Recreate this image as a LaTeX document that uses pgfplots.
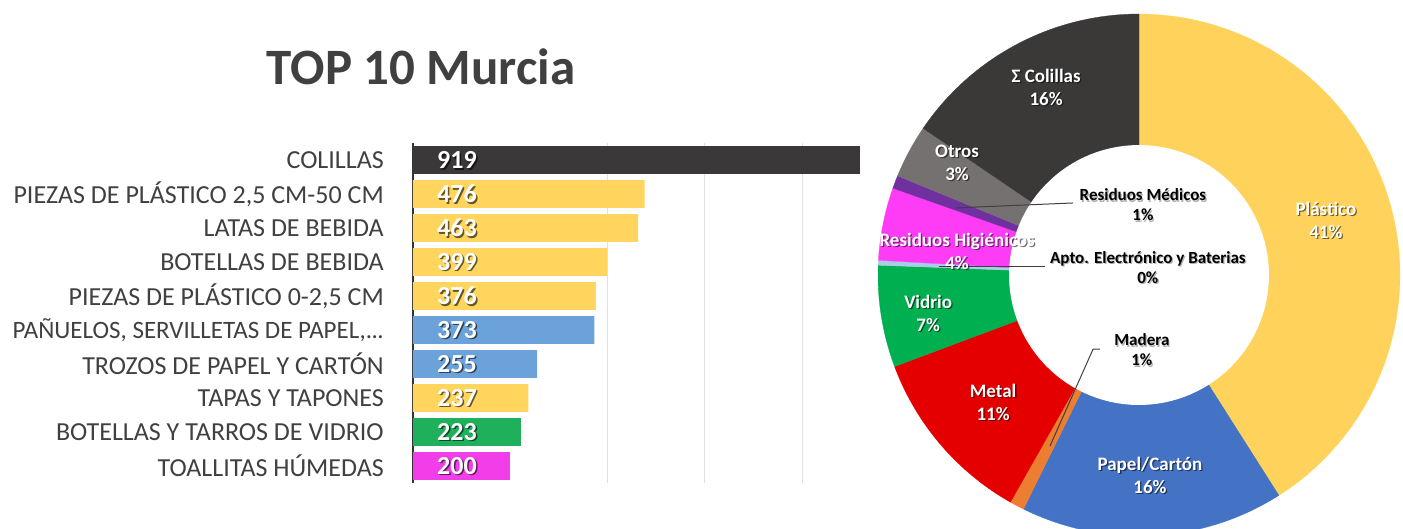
\documentclass[border=0pt]{standalone}
\usepackage{pgfplots}
\pgfplotsset{compat=1.18}
\usepackage{pgfplotstable}
\usepackage{fontspec}
\setmainfont{Carlito}

\definecolor{cDark}{HTML}{3A3838}
\definecolor{cYel}{HTML}{FFD55E}
\definecolor{cBlue}{HTML}{6CA2DA}
\definecolor{cGreen}{HTML}{1FB05C}
\definecolor{cMag}{HTML}{F23EE8}
\definecolor{cText}{HTML}{404040}
\definecolor{dPlas}{HTML}{FFD35B}
\definecolor{dPapel}{HTML}{4472C4}
\definecolor{dMadera}{HTML}{ED7D31}
\definecolor{dMetal}{HTML}{E50000}
\definecolor{dVidrio}{HTML}{00B050}
\definecolor{dApto}{HTML}{A9CDE8}
\definecolor{dHig}{HTML}{FF3CF5}
\definecolor{dMed}{HTML}{7030A0}
\definecolor{dOtros}{HTML}{767171}
\definecolor{dCol}{HTML}{3B3838}

\pgfplotstableread{
idx value
0 919
1 476
2 463
3 399
4 376
5 373
6 255
7 237
8 223
9 200
}\bardata

% donut slices: percent, colour (clockwise from 12 o'clock)
\xdef\cum{90}
\newcommand\slice[2]{%
  \pgfmathsetmacro\sA{\cum}%
  \pgfmathsetmacro\sB{\cum-3.6*#1}%
  \xdef\cum{\sB}%
  \edef\doslice{\noexpand\addplot[fill=#2, draw=#2, line width=0.3pt, domain=\sB:\sA, samples=60] ({cos(x)},{sin(x)}) -- (axis cs:0,0) -- cycle;}%
  \doslice
}
\newcommand\wlabel[2]{%
  \node[align=center, text=black, opacity=.55, font=\fontsize{19}{23}\selectfont\bfseries] at ([xshift=1.3pt,yshift=-1.3pt]axis cs:#1) {#2};
  \node[align=center, text=white, font=\fontsize{19}{23}\selectfont\bfseries] at (axis cs:#1) {#2};
}
\newcommand\blabel[2]{%
  \node[align=center, text=gray, opacity=.6, font=\fontsize{17}{20}\selectfont\bfseries] at ([xshift=1.2pt,yshift=-1.2pt]axis cs:#1) {#2};
  \node[align=center, text=black, font=\fontsize{17}{20}\selectfont\bfseries] at (axis cs:#1) {#2};
}
\newcommand\pan{\fontsize{25}{30}\selectfont PAÑUELOS, SERVILLETAS DE PAPEL,.\kern-0.5pt.\kern-0.5pt.}
\pgfplotsset{hbar/.style={xbar, bar shift=0pt, bar width=0.82, draw=none, fill=#1}}

\begin{document}
\begin{tikzpicture}[x=1pt,y=1pt]
\path[use as bounding box] (0,0) rectangle (1403,529);

\node[anchor=base, text=cText, font=\fontsize{51}{60}\selectfont\bfseries] at (421,444) {TOP 10 Murcia};

\begin{axis}[
  at={(413pt,46pt)}, anchor=south west,
  scale only axis, width=447pt, height=340pt,
  xmin=0, xmax=919, ymin=-0.5, ymax=9.5, y dir=reverse,
  clip=false,
  axis lines*=left,
  x axis line style={draw=none},
  y axis line style={line width=2.5pt, color=black!80, -},
  xtick={400,600,800}, xticklabels={}, xtick style={draw=none},
  xmajorgrids, grid style={black!12, line width=0.8pt},
  ytick={0,1,2,3,4,5,6,7,8,9}, ytick style={draw=none},
  yticklabels={COLILLAS,{PIEZAS DE PLÁSTICO 2,5 CM-50 CM},LATAS DE BEBIDA,BOTELLAS DE BEBIDA,{PIEZAS DE PLÁSTICO 0-2,5 CM},{\pan},TROZOS DE PAPEL Y CARTÓN,TAPAS Y TAPONES,BOTELLAS Y TARROS DE VIDRIO,TOALLITAS HÚMEDAS},
  yticklabel style={font=\fontsize{26}{30}\selectfont, text=cText, inner sep=0pt, xshift=-29pt},
  /pgf/number format/assume math mode=true,
]
% Colillas
\addplot[hbar=cDark, skip coords between index={1}{10}] table[x=value, y=idx] {\bardata};
% plastic / cans / bottles / caps
\addplot[hbar=cYel, skip coords between index={0}{1}, skip coords between index={5}{7}, skip coords between index={8}{10}] table[x=value, y=idx] {\bardata};
% paper
\addplot[hbar=cBlue, skip coords between index={0}{5}, skip coords between index={7}{10}] table[x=value, y=idx] {\bardata};
% glass
\addplot[hbar=cGreen, skip coords between index={0}{8}, skip coords between index={9}{10}] table[x=value, y=idx] {\bardata};
% wipes
\addplot[hbar=cMag, skip coords between index={0}{9}] table[x=value, y=idx] {\bardata};
% value labels (shadow, then white)
\addplot[draw=none, mark=none, nodes near coords, point meta=\thisrow{value},
  every node near coord/.append style={anchor=west, inner sep=0pt, xshift=25.5pt, yshift=-1.5pt, text=black, opacity=0.6, font=\fontsize{26}{30}\selectfont\bfseries}]
  table[x expr=0, y=idx] {\bardata};
\addplot[draw=none, mark=none, nodes near coords, point meta=\thisrow{value},
  every node near coord/.append style={anchor=west, inner sep=0pt, xshift=24pt, text=white, font=\fontsize{26}{30}\selectfont\bfseries}]
  table[x expr=0, y=idx] {\bardata};
\end{axis}

\begin{axis}[
  at={(878pt,0pt)}, anchor=south west,
  scale only axis, width=522pt, height=515pt,
  xmin=-1, xmax=1, ymin=-0.973, ymax=1,
  hide axis, clip=true,
]
\slice{41}{dPlas}
\slice{16.3}{dPapel}
\slice{0.9}{dMadera}
\slice{11.1}{dMetal}
\slice{6.3}{dVidrio}
\slice{0.3}{dApto}
\slice{4.5}{dHig}
\slice{0.8}{dMed}
\slice{3.3}{dOtros}
\slice{15.5}{dCol}
\addplot[fill=white, draw=none, domain=0:360, samples=120] ({0.498*cos(x)},{0.498*sin(x)}) -- cycle;

\draw[black!75, line width=1pt] (axis cs:-0.253,0.276) -- (axis cs:-0.705,0.257);
\draw[black!75, line width=1pt] (axis cs:-0.360,0.034) -- (axis cs:-0.765,0.034);
\draw[black!75, line width=1pt] (axis cs:-0.149,-0.284) -- (axis cs:-0.176,-0.284) -- (axis cs:-0.341,-0.655);

\wlabel{-0.356,0.720}{Σ Colillas\\16\%}
\wlabel{-0.697,0.429}{Otros\\3\%}
\wlabel{0.716,0.211}{Plástico\\41\%}
\wlabel{-0.697,0.090}{Residuos Higiénicos\\4\%}
\wlabel{-0.808,-0.146}{Vidrio\\7\%}
\wlabel{-0.559,-0.487}{Metal\\11\%}
\wlabel{0.042,-0.766}{Papel/Cartón\\16\%}
\blabel{0.015,0.268}{Residuos Médicos\\1\%}
\blabel{0.034,0.030}{Apto. Electrónico y Baterias\\0\%}
\blabel{0.011,-0.287}{Madera\\1\%}
\end{axis}
\end{tikzpicture}
\end{document}
